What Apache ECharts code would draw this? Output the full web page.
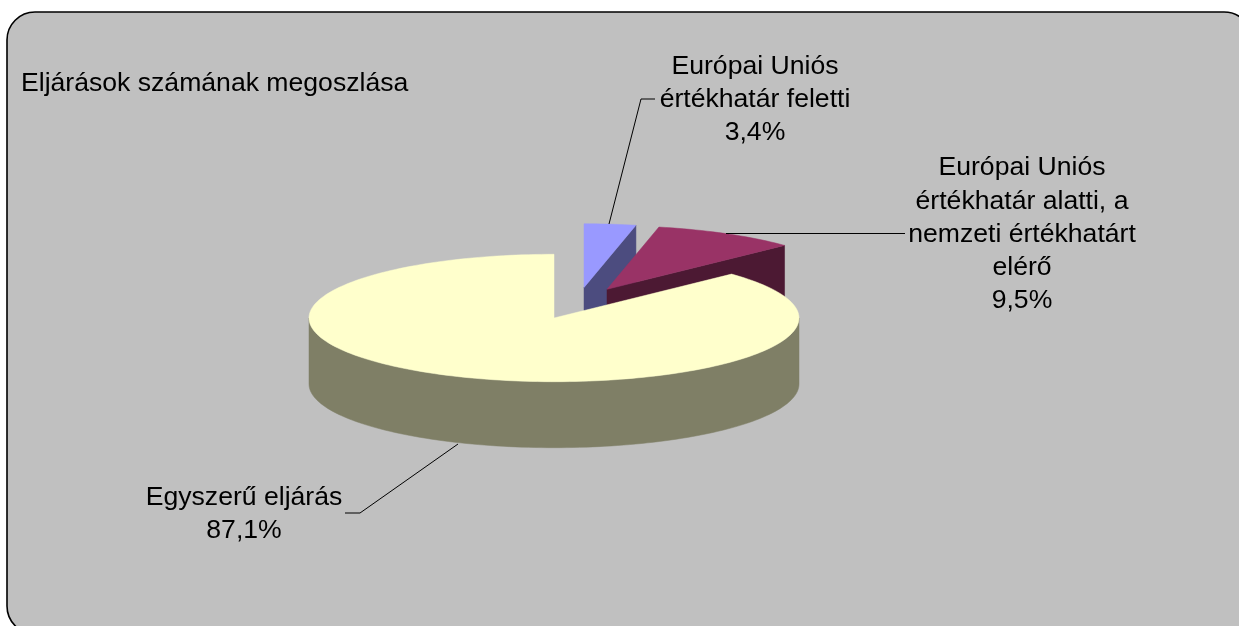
<!DOCTYPE html>
<html>
<head>
<meta charset="utf-8">
<title>Eljárások számának megoszlása</title>
<script src="https://cdn.jsdelivr.net/npm/echarts@6/dist/echarts.min.js"></script>
<style>
html, body { margin: 0; padding: 0; background: #fff; overflow: hidden; }
#main { width: 1239px; height: 626px; }
</style>
</head>
<body>
<div id="main"></div>
<script>
var chartTitle = 'Eljárások számának megoszlása';
var categories = ['Egyszerű eljárás', 'Európai Uniós\nértékhatár feletti', 'Európai Uniós\nértékhatár alatti, a\nnemzeti értékhatárt\nelérő'];
var shares = [87.1, 3.4, 9.5];
var valueLabels = ['87,1%', '3,4%', '9,5%'];

var topColors = ['#FFFFCC', '#9999FF', '#993366'];
var sideColors = ['#7F7F66', '#4C4C7F', '#4C1933'];
var explode = [[0, 0], [30, -30.5], [53, -28.7]];
var labelPos = [[244, 514], [755, 99.5], [1022, 234.5]];
var leaders = [
  [[345, 513], [360, 513], [458, 444]],
  [[655, 99], [641, 99], [609, 224]],
  [[905, 233.5], [726, 233.5]]
];

// flattened pie, 0 deg at 12 o'clock going clockwise
var cx = 554, cy = 318, rx = 245, ry = 63.7, depth = 66;
var total = shares.reduce(function (a, b) { return a + b; }, 0);

// blue starts at the top, then red, the big slice takes the rest of the way round
var startAngles = [
  (shares[1] + shares[2]) / total * 360,
  0,
  shares[1] / total * 360
];
// back slices first, the big front one goes last
var drawOrder = [1, 2, 0];

function pt(i, deg, drop) {
  var a = deg * Math.PI / 180;
  return [
    cx + explode[i][0] + rx * Math.sin(a),
    cy + explode[i][1] - ry * Math.cos(a) + (drop || 0)
  ];
}

function arcPts(i, from, to, drop) {
  var pts = [];
  var n = Math.max(2, Math.ceil((to - from) / 1.5));
  for (var k = 0; k <= n; k++) {
    pts.push(pt(i, from + (to - from) * k / n, drop));
  }
  return pts;
}

function poly(points, fill, z) {
  return {
    type: 'polygon',
    z2: z,
    shape: { points: points },
    style: { fill: fill, stroke: fill, lineWidth: 0.5 }
  };
}

function sliceShapes(i) {
  var start = startAngles[i];
  var end = start + shares[i] / total * 360;
  var c = [cx + explode[i][0], cy + explode[i][1]];
  var cDown = [c[0], c[1] + depth];
  var out = [];

  var cut = function (deg) {
    var p = pt(i, deg);
    return [c, p, [p[0], p[1] + depth], cDown];
  };
  // a cut face only shows when it turns towards the viewer
  if (Math.sin(start * Math.PI / 180) < -1e-6) {
    out.push(poly(cut(start), sideColors[i], 1));
  }
  if (Math.sin(end * Math.PI / 180) > 1e-6) {
    out.push(poly(cut(end), sideColors[i], 1));
  }

  // outer wall, only the front half of the ellipse shows
  var wallFrom = Math.max(start, 90);
  var wallTo = Math.min(end, 270);
  if (wallTo > wallFrom) {
    var upper = arcPts(i, wallFrom, wallTo, 0);
    var lower = arcPts(i, wallFrom, wallTo, depth).reverse();
    out.push(poly(upper.concat(lower), sideColors[i], 2));
  }

  // top face
  out.push(poly([c].concat(arcPts(i, start, end, 0)), topColors[i], 3));
  return out;
}

var chart = echarts.init(document.getElementById('main'), null, { renderer: 'canvas' });

var textFont = '"Liberation Sans", Arial, sans-serif';
var textSize = 26.6;

var graphics = [{
  type: 'rect',
  silent: true,
  z: -10,
  shape: { x: 7, y: 12, width: 1245, height: 622, r: 28 },
  style: { fill: '#C0C0C0', stroke: '#000', lineWidth: 1.6 }
}];

leaders.forEach(function (l) {
  graphics.push({
    type: 'polyline',
    silent: true,
    z: 20,
    shape: { points: l },
    style: { fill: null, stroke: '#000', lineWidth: 1 }
  });
});

categories.forEach(function (name, i) {
  graphics.push({
    type: 'text',
    silent: true,
    z: 20,
    x: labelPos[i][0],
    y: labelPos[i][1],
    style: {
      text: name + '\n' + valueLabels[i],
      fill: '#000',
      fontFamily: textFont,
      fontSize: textSize,
      lineHeight: 33.2,
      align: 'center',
      verticalAlign: 'middle'
    }
  });
});

var option = {
  animation: false,
  backgroundColor: '#fff',
  title: {
    text: chartTitle,
    left: 21,
    top: 70,
    padding: 0,
    textStyle: { color: '#000', fontSize: textSize, fontWeight: 'normal', fontFamily: textFont }
  },
  graphic: graphics,
  series: [{
    type: 'custom',
    coordinateSystem: 'none',
    silent: true,
    data: drawOrder.map(function (i) { return { value: shares[i], name: categories[i] }; }),
    renderItem: function (params) {
      return { type: 'group', children: sliceShapes(drawOrder[params.dataIndex]) };
    }
  }]
};

chart.setOption(option);
</script>
</body>
</html>
